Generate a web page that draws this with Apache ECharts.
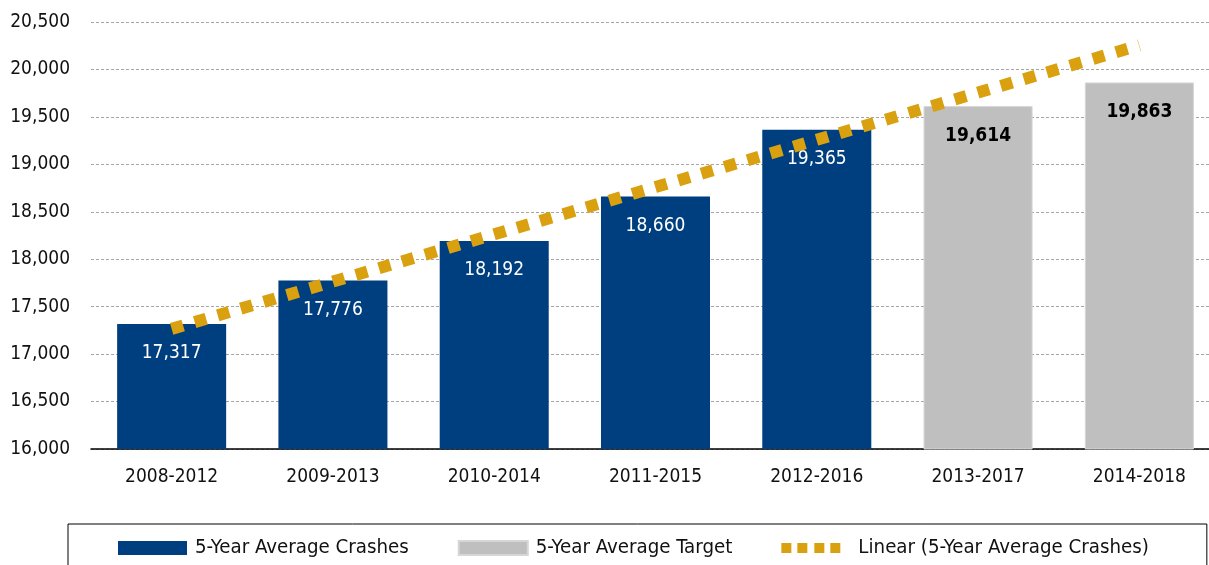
<!DOCTYPE html>
<html>
<head>
<meta charset="utf-8">
<script src="https://cdn.jsdelivr.net/npm/echarts@6/dist/echarts.min.js"></script>
<style>
html,body{margin:0;padding:0;background:#fff;overflow:hidden;}
#c{width:1222px;height:565px;}
</style>
</head>
<body>
<div id="c"></div>
<script>
var categories = ['2008-2012','2009-2013','2010-2014','2011-2015','2012-2016','2013-2017','2014-2018'];
var crashes = [17317, 17776, 18192, 18660, 19365, null, null];
var target = [null, null, null, null, null, 19614, 19863];
var linear = [17266, 17764, 18262, 18760, 19258, 19756, 20254];
var yTicks = [16000, 16500, 17000, 17500, 18000, 18500, 19000, 19500, 20000, 20500];

var FONT = '"DejaVu Sans Condensed", "Liberation Sans Narrow", sans-serif';
function fmt(v){ return Number(v).toLocaleString('en-US'); }

var chart = echarts.init(document.getElementById('c'), null, {renderer:'canvas'});
var dotIcon = 'path://M0,0h0.01v0.01h-0.01z M69,14h0.01v0.01h-0.01z M0,2h10v10h-10z M16,2h10v10h-10z M33,2h10v10h-10z M49,2h10v10h-10z';
chart.setOption({
  animation:false,
  textStyle:{fontFamily:FONT},
  grid:{left:91, top:22, width:1129, height:427},
  xAxis:{
    type:'category', data:categories,
    axisLine:{lineStyle:{color:'#000', width:1.5}},
    axisTick:{show:false},
    axisLabel:{color:'#111', fontSize:19, margin:19, fontFamily:FONT}
  },
  yAxis:{
    type:'value', min:yTicks[0], max:yTicks[yTicks.length-1], interval:500,
    axisLine:{show:false}, axisTick:{show:false},
    axisLabel:{color:'#111', fontSize:19, margin:21, fontFamily:FONT, formatter:function(v){return fmt(v);}},
    splitLine:{lineStyle:{color:'#a6a6a6', type:[3,2], width:1}}
  },
  legend:{
    left:68, top:524, width:1060,
    padding:[14, 58, 22, 50],
    borderColor:'#000', borderWidth:1,
    itemWidth:69, itemHeight:14, itemGap:49,
    textStyle:{fontSize:20.3, color:'#111', fontFamily:FONT, padding:[0,0,0,3]},
    data:[
      {name:'5-Year Average Crashes', icon:'rect'},
      {name:'5-Year Average Target', icon:'rect'},
      {name:'Linear (5-Year Average Crashes)', icon:dotIcon, itemStyle:{color:'#D9A10F'}}
    ]
  },
  series:[
    {
      name:'5-Year Average Crashes', type:'bar', data:crashes, barWidth:'67.6%', barGap:'-100%',
      itemStyle:{color:'#003F7F'},
      label:{show:true, position:'insideTop', distance:20, color:'#fff', fontSize:19, fontFamily:FONT,
             formatter:function(p){return fmt(p.value);}}
    },
    {
      name:'5-Year Average Target', type:'bar', data:target, barWidth:'67.6%', barGap:'-100%',
      itemStyle:{color:'#BFBFBF', borderColor:'#d6d6d6', borderWidth:1},
      label:{show:true, position:'insideTop', distance:20, color:'#000', fontSize:19, fontWeight:'bold', fontFamily:FONT,
             formatter:function(p){return fmt(p.value);}}
    },
    {
      name:'Linear (5-Year Average Crashes)', type:'line', data:linear, z:10,
      symbol:'none', silent:true,
      lineStyle:{color:'#D9A10F', width:12, type:[12,12], cap:'butt'},
      itemStyle:{color:'#D9A10F'}
    }
  ]
});
</script>
</body>
</html>
